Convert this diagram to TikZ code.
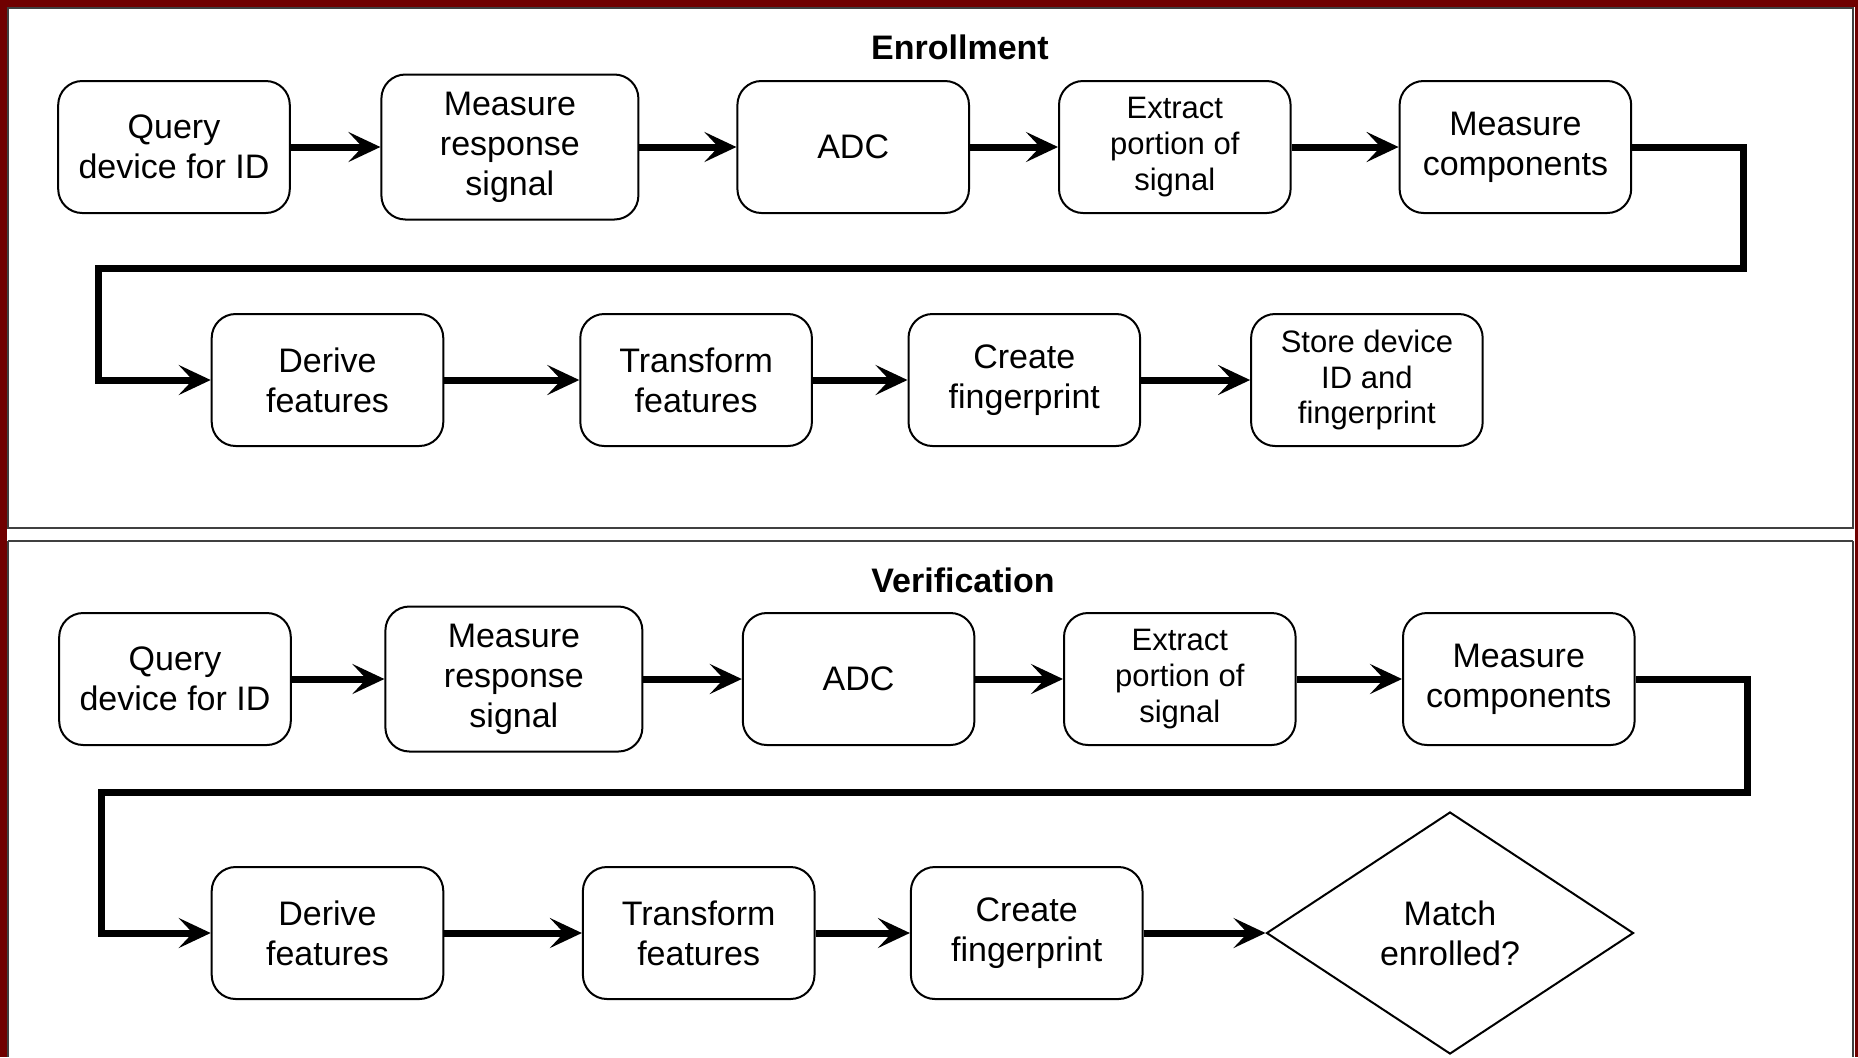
\documentclass[tikz,border=0pt]{standalone}
\usepackage{fontspec}
\setmainfont{Liberation Sans}
\usetikzlibrary{arrows.meta, positioning, shapes.geometric}
\definecolor{framered}{RGB}{112,0,0}

\begin{document}
\begin{tikzpicture}[
  x=0.5pt, y=-0.5pt,
  stage/.style={rectangle, draw, line width=1pt, rounded corners=12pt,
                minimum width=115.8pt, minimum height=66pt, align=center,
                inner sep=2pt, font=\fontsize{17}{20}\selectfont},
  widestage/.style={stage, minimum width=128.5pt, minimum height=72.5pt},
  smalltext/.style={font=\fontsize{15.5}{17.8}\selectfont},
  decide/.style={diamond, draw, line width=1pt, aspect=1.5, inner sep=0pt,
                 minimum width=183.5pt, minimum height=121pt, align=center,
                 font=\fontsize{17}{20}\selectfont},
  title/.style={font=\fontsize{17}{20}\selectfont\bfseries},
  panel/.style={draw=black!75, line width=1pt},
  arr/.style={-{Stealth[length=16pt, width=15pt, inset=7pt]}, line width=3.5pt}
]
  \useasboundingbox (0,0) rectangle (1858,1057);

  % Frame and panels
  \fill[framered] (0,0) rectangle (1858,1057);
  \fill[white] (7,7) rectangle (1855,1057);
  \draw[panel] (8,8) rectangle (1853,528);
  \draw[panel] (8,541) -- (1853,541);
  \draw[panel] (8,541) -- (8,1057);
  \draw[panel] (1853,541) -- (1853,1057);

  % Enrollment
  \node[title] (enrolltitle) at (960,47) {Enrollment};

  \node[stage] (query1) at (174,147) {Query\\device for ID};
  \node[widestage, right=44.8pt of query1] (resp1) {Measure\\response\\signal};
  \node[stage, right=48.5pt of resp1] (adc1) {ADC};
  \node[stage, smalltext, right=44pt of adc1] (extract1) {Extract\\portion of\\signal};
  \node[stage, right=53.5pt of extract1] (comp1) {Measure\\components};

  \node[stage] (derive1) at (327.5,380) {Derive\\features};
  \node[stage, right=67.5pt of derive1] (trans1) {Transform\\features};
  \node[stage, right=47.3pt of trans1] (finger1) {Create\\fingerprint};
  \node[stage, smalltext, right=54.5pt of finger1] (store1) {Store device\\ID and\\fingerprint};

  \coordinate (turnA1) at (1743,268);
  \coordinate (turnB1) at (98,268);

  \draw[arr] (query1) -- (resp1);
  \draw[arr] (resp1) -- (adc1);
  \draw[arr] (adc1) -- (extract1);
  \draw[arr] (extract1) -- (comp1);
  \draw[arr] (comp1.east) -| (turnA1) -- (turnB1) |- (derive1.west);
  \draw[arr] (derive1) -- (trans1);
  \draw[arr] (trans1) -- (finger1);
  \draw[arr] (finger1) -- (store1);

  % Verification
  \node[title] (verifytitle) at (963,580) {Verification};

  \node[stage] (query2) at (175,679) {Query\\device for ID};
  \node[widestage, right=46.3pt of query2] (resp2) {Measure\\response\\signal};
  \node[stage, right=49.2pt of resp2] (adc2) {ADC};
  \node[stage, smalltext, right=43.8pt of adc2] (extract2) {Extract\\portion of\\signal};
  \node[stage, right=52.7pt of extract2] (comp2) {Measure\\components};

  \node[stage] (derive2) at (327.5,933) {Derive\\features};
  \node[stage, right=68.8pt of derive2] (trans2) {Transform\\features};
  \node[stage, right=47.2pt of trans2] (finger2) {Create\\fingerprint};
  \node[decide, right=61pt of finger2] (match2) {Match\\enrolled?};

  \coordinate (turnA2) at (1747,792);
  \coordinate (turnB2) at (101,792);

  \draw[arr] (query2) -- (resp2);
  \draw[arr] (resp2) -- (adc2);
  \draw[arr] (adc2) -- (extract2);
  \draw[arr] (extract2) -- (comp2);
  \draw[arr] (comp2.east) -| (turnA2) -- (turnB2) |- (derive2.west);
  \draw[arr] (derive2) -- (trans2);
  \draw[arr] (trans2) -- (finger2);
  \draw[arr] (finger2) -- (match2);
\end{tikzpicture}
\end{document}
